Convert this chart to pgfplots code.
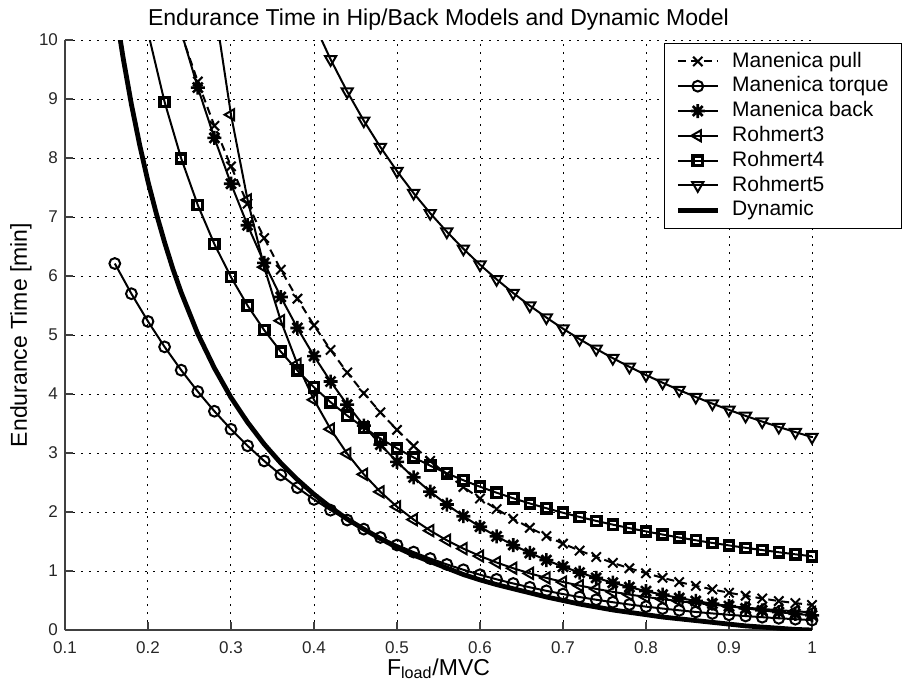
\documentclass[border=0pt]{standalone}
\usepackage{fontspec}
\setmainfont{Liberation Sans}
\usepackage{pgfplots}
\pgfplotsset{compat=1.18}

% eight-spoke asterisk, like the matlab one
\pgfdeclareplotmark{star8}{%
  \pgfpathmoveto{\pgfqpoint{-\pgfplotmarksize}{0pt}}\pgfpathlineto{\pgfqpoint{\pgfplotmarksize}{0pt}}%
  \pgfpathmoveto{\pgfqpoint{0pt}{-\pgfplotmarksize}}\pgfpathlineto{\pgfqpoint{0pt}{\pgfplotmarksize}}%
  \pgfpathmoveto{\pgfqpoint{-0.707\pgfplotmarksize}{-0.707\pgfplotmarksize}}\pgfpathlineto{\pgfqpoint{0.707\pgfplotmarksize}{0.707\pgfplotmarksize}}%
  \pgfpathmoveto{\pgfqpoint{-0.707\pgfplotmarksize}{0.707\pgfplotmarksize}}\pgfpathlineto{\pgfqpoint{0.707\pgfplotmarksize}{-0.707\pgfplotmarksize}}%
  \pgfusepathqstroke}

\begin{document}
\begin{tikzpicture}
\begin{axis}[
  scale only axis, width=373.5pt, height=295pt,
  xmin=0.1, xmax=1, ymin=0, ymax=10,
  axis x line=bottom, axis y line=left,
  axis line style={-, line width=0.6pt, black!75},
  tick align=inside, major tick length=4pt,
  tick style={black!75, line width=0.6pt},
  xtick={0.1,0.2,0.3,0.4,0.5,0.6,0.7,0.8,0.9,1},
  xticklabels={0.1,0.2,0.3,0.4,0.5,0.6,0.7,0.8,0.9,1},
  ytick={0,1,2,3,4,5,6,7,8,9,10},
  /pgf/number format/assume math mode=true,
  ticklabel style={font=\fontsize{8.5}{10}\selectfont, text=black!85},
  xticklabel style={yshift=-2.2pt},
  grid=major,
  major grid style={black, line width=0.5pt, dash pattern=on 1.1pt off 2.9pt},
  every axis title/.style={at={(axis description cs:0.5,1.0254)}, anchor=base,
    font=\fontsize{11.5}{13}\selectfont},
  every axis x label/.style={at={(axis description cs:0.5,-0.0763)}, anchor=base,
    font=\fontsize{11.5}{13}\selectfont},
  every axis y label/.style={at={(axis description cs:-0.0509,0.5)}, anchor=base, rotate=90,
    font=\fontsize{11.5}{13}\selectfont},
  title={Endurance Time in Hip/Back Models and Dynamic Model},
  xlabel={F\textsubscript{load}/MVC},
  ylabel={Endurance Time [min]},
  legend cell align=left,
  legend image code/.code={\draw[#1, mark indices={2}]
    plot coordinates {(0pt,0pt) (10pt,0pt) (20pt,0pt)};},
  legend style={at={(1,1)}, anchor=north east, xshift=45pt, yshift=-1.5pt,
    font=\fontsize{10.5}{12}\selectfont, draw=black, fill=white,
    inner xsep=5.5pt, inner ysep=2.8pt, column sep=5pt,
    nodes={inner sep=1pt, text height=8pt, text depth=2.4pt}},
]

% Manenica pull
\addplot[black, line width=1pt, dash pattern=on 4pt off 2.5pt, mark=x, mark size=3.3pt,
  mark options={solid, line width=1pt}, mark indices={1,...,39}] coordinates {
(0.24,10.11) (0.26,9.295) (0.28,8.546) (0.30,7.858) (0.32,7.225) (0.34,6.643)
(0.36,6.107) (0.38,5.615) (0.40,5.163) (0.42,4.747) (0.44,4.364) (0.46,4.013)
(0.48,3.689) (0.50,3.392) (0.52,3.119) (0.54,2.868) (0.56,2.637) (0.58,2.424)
(0.60,2.229) (0.62,2.049) (0.64,1.884) (0.66,1.732) (0.68,1.593) (0.70,1.464)
(0.72,1.346) (0.74,1.238) (0.76,1.138) (0.78,1.047) (0.80,0.962) (0.82,0.885)
(0.84,0.813) (0.86,0.748) (0.88,0.688) (0.90,0.632) (0.92,0.581) (0.94,0.534)
(0.96,0.491) (0.98,0.456) (1.00,0.425)
};
\addlegendentry{Manenica pull}

% Manenica torque
\addplot[black, line width=1pt, mark=o, mark size=2.7pt, mark options={line width=1pt}] coordinates {
(0.16,6.212) (0.18,5.700) (0.20,5.230) (0.22,4.799) (0.24,4.404) (0.26,4.041)
(0.28,3.708) (0.30,3.402) (0.32,3.122) (0.34,2.865) (0.36,2.629) (0.38,2.412)
(0.40,2.213) (0.42,2.031) (0.44,1.864) (0.46,1.710) (0.48,1.569) (0.50,1.440)
(0.52,1.321) (0.54,1.212) (0.56,1.112) (0.58,1.021) (0.60,0.937) (0.62,0.859)
(0.64,0.789) (0.66,0.724) (0.68,0.664) (0.70,0.609) (0.72,0.559) (0.74,0.513)
(0.76,0.471) (0.78,0.432) (0.80,0.396) (0.82,0.364) (0.84,0.334) (0.86,0.306)
(0.88,0.281) (0.90,0.258) (0.92,0.237) (0.94,0.217) (0.96,0.199) (0.98,0.183)
(1.00,0.168)
};
\addlegendentry{Manenica torque}

% Manenica back
\addplot[black, line width=1pt, mark=star8, mark size=3.5pt, mark options={line width=1.3pt},
  mark indices={1,...,39}] coordinates {
(0.24,10.14) (0.26,9.194) (0.28,8.340) (0.30,7.564) (0.32,6.861) (0.34,6.223)
(0.36,5.644) (0.38,5.119) (0.40,4.643) (0.42,4.212) (0.44,3.820) (0.46,3.465)
(0.48,3.143) (0.50,2.851) (0.52,2.586) (0.54,2.345) (0.56,2.127) (0.58,1.929)
(0.60,1.750) (0.62,1.587) (0.64,1.440) (0.66,1.306) (0.68,1.184) (0.70,1.074)
(0.72,0.974) (0.74,0.884) (0.76,0.802) (0.78,0.727) (0.80,0.659) (0.82,0.598)
(0.84,0.543) (0.86,0.492) (0.88,0.446) (0.90,0.405) (0.92,0.367) (0.94,0.333)
(0.96,0.302) (0.98,0.274) (1.00,0.249)
};
\addlegendentry{Manenica back}

% Rohmert3
\addplot[black, line width=1pt, mark=triangle, mark size=3.2pt,
  mark options={rotate=90, line width=1pt}, mark indices={1,...,37}] coordinates {
(0.28,10.60) (0.30,8.734) (0.32,7.289) (0.34,6.151) (0.36,5.242) (0.38,4.505)
(0.40,3.902) (0.42,3.404) (0.44,2.988) (0.46,2.639) (0.48,2.342) (0.50,2.089)
(0.52,1.872) (0.54,1.684) (0.56,1.521) (0.58,1.379) (0.60,1.254) (0.62,1.144)
(0.64,1.047) (0.66,0.960) (0.68,0.883) (0.70,0.814) (0.72,0.753) (0.74,0.697)
(0.76,0.647) (0.78,0.601) (0.80,0.560) (0.82,0.523) (0.84,0.489) (0.86,0.458)
(0.88,0.429) (0.90,0.403) (0.92,0.379) (0.94,0.357) (0.96,0.336) (0.98,0.317)
(1.00,0.300)
};
\addlegendentry{Rohmert3}

% Rohmert4
\addplot[black, line width=1pt, mark=square, mark size=2.3pt,
  mark options={line width=1.7pt}, mark indices={1,...,41}] coordinates {
(0.20,10.13) (0.22,8.949) (0.24,7.993) (0.26,7.202) (0.28,6.541) (0.30,5.980)
(0.32,5.498) (0.34,5.082) (0.36,4.718) (0.38,4.398) (0.40,4.114) (0.42,3.861)
(0.44,3.634) (0.46,3.430) (0.48,3.246) (0.50,3.078) (0.52,2.925) (0.54,2.785)
(0.56,2.656) (0.58,2.538) (0.60,2.429) (0.62,2.327) (0.64,2.233) (0.66,2.145)
(0.68,2.064) (0.70,1.987) (0.72,1.916) (0.74,1.849) (0.76,1.786) (0.78,1.727)
(0.80,1.671) (0.82,1.618) (0.84,1.568) (0.86,1.521) (0.88,1.476) (0.90,1.434)
(0.92,1.393) (0.94,1.355) (0.96,1.318) (0.98,1.283) (1.00,1.250)
};
\addlegendentry{Rohmert4}

% Rohmert5
\addplot[black, line width=1pt, mark=triangle, mark size=3.2pt,
  mark options={rotate=180, line width=1pt}, mark indices={1,...,31}] coordinates {
(0.40,10.28) (0.42,9.671) (0.44,9.125) (0.46,8.632) (0.48,8.185) (0.50,7.777)
(0.52,7.405) (0.54,7.064) (0.56,6.751) (0.58,6.461) (0.60,6.192) (0.62,5.944)
(0.64,5.712) (0.66,5.497) (0.68,5.296) (0.70,5.107) (0.72,4.930) (0.74,4.764)
(0.76,4.608) (0.78,4.461) (0.80,4.322) (0.82,4.191) (0.84,4.066) (0.86,3.949)
(0.88,3.837) (0.90,3.730) (0.92,3.629) (0.94,3.533) (0.96,3.441) (0.98,3.354)
(1.00,3.270)
};
\addlegendentry{Rohmert5}

% Dynamic
\addplot[black, line width=2.4pt, line join=round] coordinates {
(0.16,10.59) (0.17,9.70) (0.18,8.91) (0.19,8.22) (0.20,7.60) (0.21,7.06)
(0.22,6.57) (0.23,6.12) (0.24,5.72) (0.26,5.02) (0.28,4.44) (0.30,3.94)
(0.32,3.52) (0.34,3.15) (0.36,2.83) (0.38,2.55) (0.40,2.30) (0.42,2.08)
(0.44,1.88) (0.46,1.71) (0.48,1.55) (0.50,1.40) (0.52,1.27) (0.54,1.16)
(0.56,1.05) (0.58,0.94) (0.60,0.85) (0.62,0.77) (0.64,0.70) (0.66,0.63)
(0.68,0.56) (0.70,0.50) (0.72,0.44) (0.74,0.39) (0.76,0.34) (0.78,0.30)
(0.80,0.26) (0.82,0.22) (0.84,0.19) (0.86,0.16) (0.88,0.13) (0.90,0.10)
(0.92,0.07) (0.94,0.05) (0.96,0.03) (0.98,0.01) (1.00,0.00)
};
\addlegendentry{Dynamic}

\end{axis}
\pgfresetboundingbox
\path[use as bounding box] (-32.5pt,-31.5pt) rectangle (419pt,315pt);
\end{tikzpicture}
\end{document}
